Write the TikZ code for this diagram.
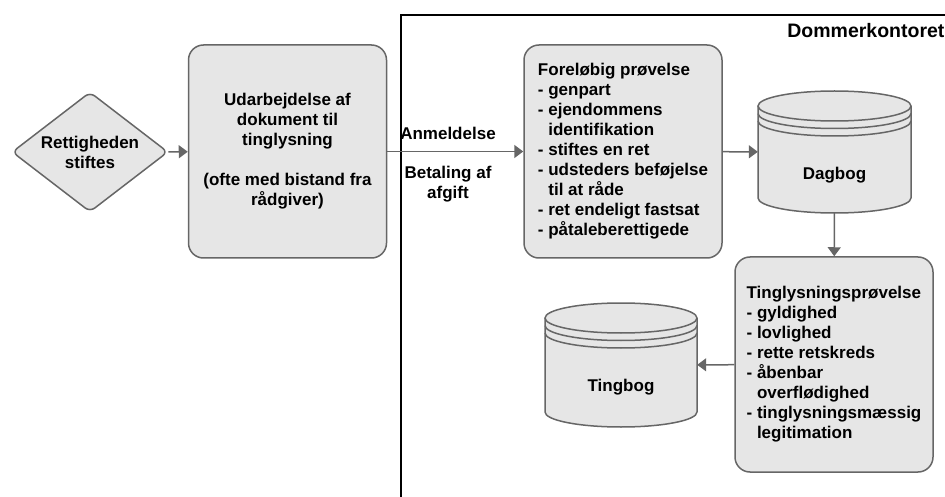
\documentclass[tikz,border=0pt]{standalone}
\usepackage{fontspec}
\setmainfont{Liberation Sans}
\usetikzlibrary{arrows.meta,shapes.geometric}
\definecolor{boxfill}{HTML}{E6E6E6}
\definecolor{boxline}{HTML}{666666}
\begin{document}
\begin{tikzpicture}[x=1pt,y=1pt,
  every node/.style={font=\fontsize{17}{20}\selectfont\bfseries},
  procbox/.style={draw=boxline, fill=boxfill, line width=1.5pt, rounded corners=15pt, inner sep=0pt, minimum width=198pt},
  startbox/.style={diamond, draw=boxline, fill=boxfill, line width=1.5pt, rounded corners=6pt, inner sep=0pt, aspect=1.3, minimum width=156pt, minimum height=120pt, align=center},
  dbbox/.style={minimum width=153pt, minimum height=122pt, inner sep=0pt},
  flow/.style={draw=boxline, line width=1.5pt, -{Triangle[length=9pt,width=13pt]}}]
\useasboundingbox (0,0) rectangle (945,496);
% frame
\draw[line width=1.5pt] (401,-10) -- (401,481) -- (960,481);
\node[anchor=east, font=\fontsize{19.5}{22}\selectfont\bfseries] (office) at (948,465) {Dommerkontoret};
% process
\node[startbox] (start) at (90,344) {Rettigheden\\stiftes};
\node[procbox, align=center, minimum height=213pt] (draft) at (287.5,344.5)
  {Udarbejdelse af\\dokument til\\tinglysning\\[20pt](ofte med bistand fra\\rådgiver)};
\node[procbox, align=left, minimum height=213pt] (prelim) at (623,344.5)
  {Foreløbig prøvelse\\- genpart\\- ejendommens\\\phantom{- }identifikation\\- stiftes en ret\\- udsteders beføjelse\\\phantom{- }til at råde\\- ret endeligt fastsat\\- påtaleberettigede};
\node[procbox, align=left, minimum height=215pt] (final) at (834,131.5)
  {Tinglysningsprøvelse\\- gyldighed\\- lovlighed\\- rette retskreds\\- åbenbar\\\phantom{- }overflødighed\\- tinglysningsmæssig\\\phantom{- }legitimation};
% dagbog
\fill[boxfill] (758,390) -- (758,298) arc[start angle=180, end angle=360, x radius=76.5pt, y radius=15pt]
  -- (911,390) arc[start angle=0, end angle=180, x radius=76.5pt, y radius=15pt] -- cycle;
\draw[boxline, line width=1.5pt] (758,390) -- (758,298) arc[start angle=180, end angle=360, x radius=76.5pt, y radius=15pt] -- (911,390);
\draw[boxline, line width=1.5pt] (834.5,390) ellipse[x radius=76.5pt, y radius=15pt];
\draw[boxline, line width=1.5pt] (758,382.5) arc[start angle=180, end angle=360, x radius=76.5pt, y radius=15pt];
\draw[boxline, line width=1.5pt] (758,375) arc[start angle=180, end angle=360, x radius=76.5pt, y radius=15pt];
\node[dbbox] (dagbog) at (834.5,344) {};
\node (dagbogtxt) at (834.5,321) {Dagbog};
% tingbog
\fill[boxfill] (545,178) -- (545,84) arc[start angle=180, end angle=360, x radius=76pt, y radius=15pt]
  -- (697,178) arc[start angle=0, end angle=180, x radius=76pt, y radius=15pt] -- cycle;
\draw[boxline, line width=1.5pt] (545,178) -- (545,84) arc[start angle=180, end angle=360, x radius=76pt, y radius=15pt] -- (697,178);
\draw[boxline, line width=1.5pt] (621,178) ellipse[x radius=76pt, y radius=15pt];
\draw[boxline, line width=1.5pt] (545,170.5) arc[start angle=180, end angle=360, x radius=76pt, y radius=15pt];
\draw[boxline, line width=1.5pt] (545,163) arc[start angle=180, end angle=360, x radius=76pt, y radius=15pt];
\node[dbbox, minimum width=152pt, minimum height=124pt] (tingbog) at (621,131) {};
\node (tingbogtxt) at (621,109) {Tingbog};
% labels
\node (submit) at (448,363) {Anmeldelse};
\node[align=center] (fee) at (448,312) {Betaling af\\afgift};
% arrows
\draw[flow] (start) -- (draft);
\draw[flow] (draft) -- (prelim);
\draw[flow] (prelim) -- (dagbog);
\draw[flow] (dagbog) -- (final);
\draw[flow] (final) -- (tingbog);
\end{tikzpicture}
\end{document}
